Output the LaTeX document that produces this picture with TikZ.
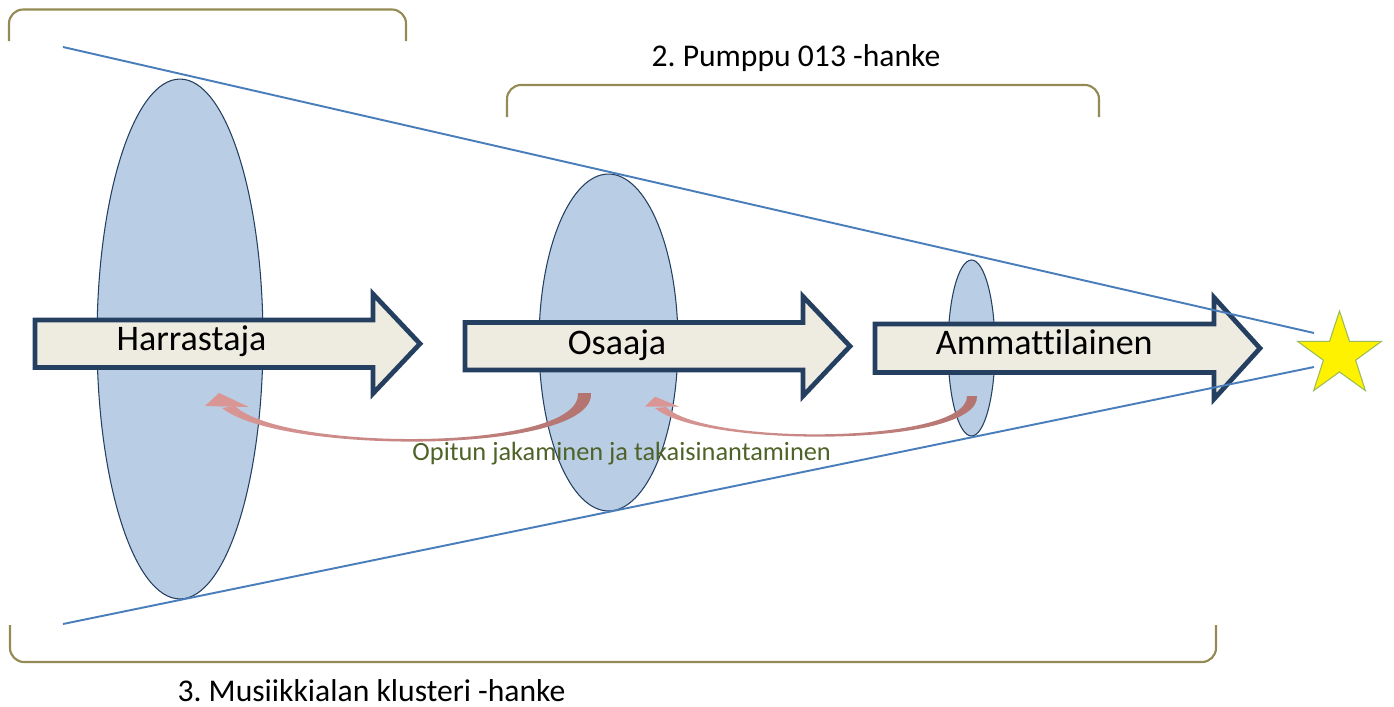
\documentclass[tikz,border=0pt]{standalone}
\usepackage{fontspec}
\setmainfont{Carlito}[Ligatures=NoCommon]
\frenchspacing
\usepackage{tikz}
\usetikzlibrary{shapes.geometric}
\definecolor{DiscFill}{HTML}{B9CDE5}
\definecolor{DiscLine}{HTML}{243F60}
\definecolor{StageFill}{HTML}{EEECE1}
\definecolor{StageLine}{HTML}{243F60}
\definecolor{FunnelLine}{HTML}{4A7EBB}
\definecolor{BracketLine}{HTML}{948A54}
\definecolor{BackHead}{HTML}{D99694}
\definecolor{BackMid}{HTML}{F4E2E1}
\definecolor{BackTail}{HTML}{B37470}
\definecolor{ShareText}{HTML}{4F6228}
\definecolor{GoalLine}{HTML}{9BBB59}
\tikzstyle{disc} = [ellipse, draw=DiscLine, fill=DiscFill, line width=0.6pt, inner sep=0]
\tikzstyle{stage} = [draw=StageLine, fill=StageFill, line width=2.7pt, miter limit=10]
\tikzstyle{stagetext} = [anchor=base, inner sep=0, font=\fontsize{20.5}{24}\selectfont]
\tikzstyle{funnel} = [draw=FunnelLine, line width=1.1pt]
\tikzstyle{bracket} = [draw=BracketLine, line width=1.2pt, rounded corners=8pt]
\tikzstyle{project} = [anchor=base, inner sep=0, font=\fontsize{18}{22}\selectfont]
\tikzstyle{giveback} = [left color=BackHead, middle color=BackMid, right color=BackTail]
\tikzstyle{goal} = [star, star points=5, star point ratio=2.6, fill=yellow, draw=GoalLine,
                    line width=0.6pt, inner sep=0, minimum size=1.76cm]

\begin{document}
\begin{tikzpicture}[x=0.02cm, y=-0.02cm]
					\useasboundingbox (0, 0) rectangle (1394, 707);

					% discs
					\node (HarrastajaDisc) [disc, minimum width=3.32cm, minimum height=10.4cm] at (180, 339) {};
					\node (OsaajaDisc) [disc, minimum width=2.78cm, minimum height=6.74cm] at (608.5, 342.5) {};
					\node (AmmattiDisc) [disc, minimum width=0.94cm, minimum height=3.52cm] at (971.5, 348) {};

					% stages
					\draw [stage] (35, 320) -- (373, 320) -- (373, 294) -- (420, 343.75) -- (373, 393.5) -- (373, 367.5) -- (35, 367.5) -- cycle;
					\draw [stage] (465, 322.5) -- (803, 322.5) -- (803, 296.5) -- (850, 346.25) -- (803, 396) -- (803, 370) -- (465, 370) -- cycle;
					\draw [stage] (875, 324) -- (1214, 324) -- (1214, 297.5) -- (1260, 348.25) -- (1214, 399) -- (1214, 372.5) -- (875, 372.5) -- cycle;
					\node (Harrastaja) [stagetext] at (191.5, 350.7) {Harrastaja};
					\node (Osaaja) [stagetext] at (617, 354) {Osaaja};
					\node (Ammattilainen) [stagetext] at (1044.3, 354) {Ammattilainen};

					% funnel
					\coordinate (MouthTop) at (63, 47);
					\coordinate (MouthBottom) at (63, 624);
					\node (Goal) [goal] at (1339.5, 355) {};
					\coordinate (NeckTop) at (1314, 333);
					\coordinate (NeckBottom) at (1314, 367);
					\draw [funnel] (MouthTop) -- (NeckTop);
					\draw [funnel] (MouthBottom) -- (NeckBottom);

					% giving back
					\shade [giveback] (222, 408) .. controls (280, 455) and (595, 455) .. (591, 393)
						-- (578, 393) .. controls (582, 452) and (283, 452) .. (235, 406) -- cycle;
					\fill [BackHead] (205, 406) -- (219, 393) -- (249, 407) -- cycle;
					\shade [giveback] (655, 408) .. controls (700, 448) and (980, 448) .. (977, 396)
						-- (967, 396) .. controls (968, 444) and (705, 446) .. (666, 407) -- cycle;
					\fill [BackHead] (645, 406.7) -- (655, 396.7) -- (679.3, 406.7) -- cycle;
					\node (Sharing) [anchor=base, inner sep=0, text=ShareText, font=\fontsize{15}{18}\selectfont] at (621.7, 460) {Opitun jakaminen ja takaisinantaminen};

					% projects
					\draw [bracket] (9, 41) -- (9, 9.5) -- (406, 9.5) -- (406, 41);
					\draw [bracket] (507, 117) -- (507, 85) -- (1099, 85) -- (1099, 117);
					\node (Pumppu) [project] at (796, 66) {2. Pumppu 013 -hanke};
					\draw [bracket] (10, 625) -- (10, 662) -- (1216, 662) -- (1216, 625);
					\node (Klusteri) [project] at (371.5, 701) {3. Musiikkialan klusteri -hanke};
\end{tikzpicture}
\end{document}
